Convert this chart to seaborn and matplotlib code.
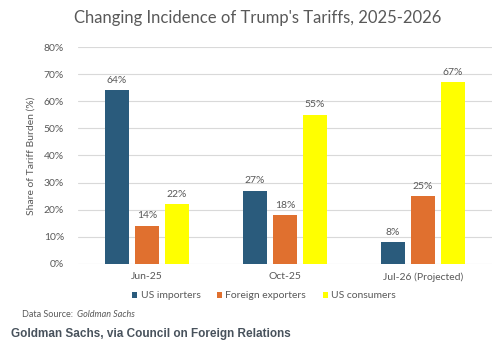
import matplotlib
matplotlib.use("Agg")
import matplotlib.pyplot as plt
import seaborn as sns
import pandas as pd
from matplotlib.patches import Patch

categories = ["Jun-25", "Oct-25", "Jul-26 (Projected)"]
series_names = ["US importers", "Foreign exporters", "US consumers"]
us_importers = [64, 27, 8]
foreign_exporters = [14, 18, 25]
us_consumers = [22, 55, 67]
colors = ["#2A5B7C", "#E0702F", "#FFFF00"]
yticks = [0, 10, 20, 30, 40, 50, 60, 70, 80]

rows = []
for name, vals in zip(series_names, [us_importers, foreign_exporters, us_consumers]):
    for c, v in zip(categories, vals):
        rows.append({"Period": c, "Series": name, "Value": v})
df = pd.DataFrame(rows)

sns.set_theme(style="white")
plt.rcParams["font.family"] = ["Lato", "DejaVu Sans"]
txt = "#595959"

fig = plt.figure(figsize=(5.03, 3.49), dpi=100)
ax = fig.add_axes([0.155, 0.2436, 0.823, 0.6217])
sns.barplot(data=df, x="Period", y="Value", hue="Series", order=categories,
            hue_order=series_names, palette=colors, width=0.65, gap=0.2,
            saturation=1, legend=False, linewidth=0, edgecolor="none", ax=ax)

for cont in ax.containers:
    ax.bar_label(cont, labels=[f"{int(round(b.get_height()))}%" for b in cont],
                 padding=4, fontsize=7.5, color=txt)

ax.set_ylim(0, 80)
ax.set_xlim(-0.5, 2.5)
ax.set_yticks(yticks)
ax.set_yticklabels([f"{t}%" for t in yticks], fontsize=7.5, color=txt)
ax.tick_params(axis="x", labelsize=7.5, labelcolor=txt, length=0, pad=6)
ax.tick_params(axis="y", length=0, pad=10)
ax.yaxis.grid(True, color="#d9d9d9", linewidth=0.8)
ax.set_axisbelow(True)
for s in ax.spines.values():
    s.set_visible(False)
ax.set_xlabel("")
ax.set_ylabel("Share of Tariff Burden (%)", fontsize=7.5, color=txt, labelpad=6)

fig.text(0.513, 0.948, "Changing Incidence of Trump's Tariffs, 2025-2026",
         ha="center", va="center", fontsize=12, color=txt)

handles = [Patch(facecolor=c, edgecolor="none") for c in colors]
fig.legend(handles, series_names, loc="center", bbox_to_anchor=(0.525, 0.152),
           ncol=3, frameon=False, fontsize=7.5, handlelength=0.5, handleheight=0.5,
           handletextpad=0.3, columnspacing=1.6, labelcolor=txt)

fig.text(0.044, 0.1, "Data Source: ", fontsize=6.5, color=txt, va="center")
fig.text(0.153, 0.1, "Goldman Sachs", fontsize=6.5, color=txt, va="center", style="italic")
fig.text(0.022, 0.043, "Goldman Sachs, via Council on Foreign Relations",
         fontsize=8.5, color="#48525c", va="center", family=["Liberation Sans", "DejaVu Sans"],
         weight="bold")

fig.savefig("out.png", dpi=100)
